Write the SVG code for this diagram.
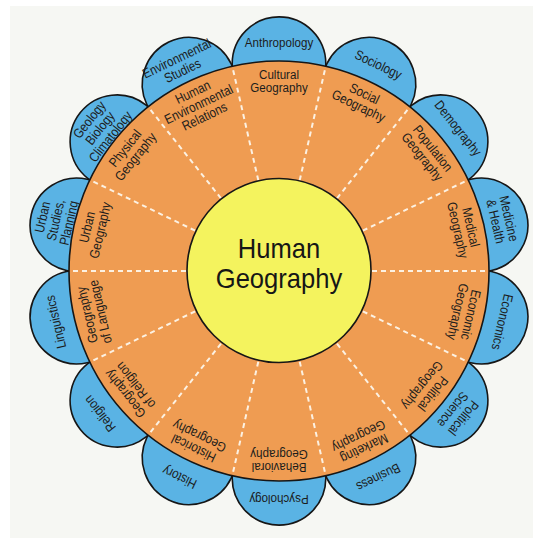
<svg xmlns="http://www.w3.org/2000/svg" width="533" height="541" viewBox="0 0 533 541">
<style>
.petal{fill:#5AB3E4;stroke:#161616;stroke-width:1.6}
.ring{fill:#EF9C52;stroke:#161616;stroke-width:1.6}
.hub{fill:#F4F35E;stroke:#161616;stroke-width:1.6}
.dv{stroke:#FCF1E2;stroke-width:2;stroke-dasharray:5 4;fill:none}
.lbl{font-family:"Liberation Sans",Arial,sans-serif;font-size:13.5px;fill:#1c1c1c;text-anchor:middle}
.big{font-family:"Liberation Sans",Arial,sans-serif;font-size:27.5px;fill:#161616;text-anchor:middle}
</style>
<rect x="0" y="0" width="533" height="541" fill="#ffffff"/>
<rect x="10" y="6" width="523" height="532" fill="#F6F7F3"/>

<g id="petals">
<g id="petal-anthropology"><circle class="petal" cx="279" cy="63.7" r="46.8" transform="rotate(0 279 271)"/><g transform="translate(279 271) rotate(0) translate(0 -229) scale(0.86 1)"><text class="lbl"><tspan x="0" y="4.5">Anthropology</tspan></text></g></g>
<g id="petal-sociology"><circle class="petal" cx="279" cy="63.7" r="46.8" transform="rotate(25.714 279 271)"/><g transform="translate(279 271) rotate(25.714) translate(0 -229) scale(0.86 1)"><text class="lbl"><tspan x="0" y="4.5">Sociology</tspan></text></g></g>
<g id="petal-demography"><circle class="petal" cx="279" cy="63.7" r="46.8" transform="rotate(51.429 279 271)"/><g transform="translate(279 271) rotate(51.429) translate(0 -229) scale(0.86 1)"><text class="lbl"><tspan x="0" y="4.5">Demography</tspan></text></g></g>
<g id="petal-medicine"><circle class="petal" cx="279" cy="63.7" r="46.8" transform="rotate(77.143 279 271)"/><g transform="translate(279 271) rotate(77.143) translate(0 -229) scale(0.86 1)"><text class="lbl"><tspan x="0" y="-2.25">Medicine</tspan><tspan x="0" y="11.25">&amp; Health</tspan></text></g></g>
<g id="petal-economics"><circle class="petal" cx="279" cy="63.7" r="46.8" transform="rotate(102.857 279 271)"/><g transform="translate(279 271) rotate(102.857) translate(0 -229) scale(0.86 1)"><text class="lbl"><tspan x="0" y="4.5">Economics</tspan></text></g></g>
<g id="petal-political-science"><circle class="petal" cx="279" cy="63.7" r="46.8" transform="rotate(128.571 279 271)"/><g transform="translate(279 271) rotate(128.571) translate(0 -229) scale(0.86 1)"><text class="lbl"><tspan x="0" y="-2.25">Political</tspan><tspan x="0" y="11.25">Science</tspan></text></g></g>
<g id="petal-business"><circle class="petal" cx="279" cy="63.7" r="46.8" transform="rotate(154.286 279 271)"/><g transform="translate(279 271) rotate(154.286) translate(0 -229) scale(0.86 1)"><text class="lbl"><tspan x="0" y="4.5">Business</tspan></text></g></g>
<g id="petal-psychology"><circle class="petal" cx="279" cy="63.7" r="46.8" transform="rotate(180 279 271)"/><g transform="translate(279 271) rotate(180) translate(0 -229) scale(0.86 1)"><text class="lbl"><tspan x="0" y="4.5">Psychology</tspan></text></g></g>
<g id="petal-history"><circle class="petal" cx="279" cy="63.7" r="46.8" transform="rotate(205.714 279 271)"/><g transform="translate(279 271) rotate(205.714) translate(0 -229) scale(0.86 1)"><text class="lbl"><tspan x="0" y="4.5">History</tspan></text></g></g>
<g id="petal-religion"><circle class="petal" cx="279" cy="63.7" r="46.8" transform="rotate(231.429 279 271)"/><g transform="translate(279 271) rotate(231.429) translate(0 -229) scale(0.86 1)"><text class="lbl"><tspan x="0" y="4.5">Religion</tspan></text></g></g>
<g id="petal-linguistics"><circle class="petal" cx="279" cy="63.7" r="46.8" transform="rotate(257.143 279 271)"/><g transform="translate(279 271) rotate(257.143) translate(0 -229) scale(0.86 1)"><text class="lbl"><tspan x="0" y="4.5">Linguistics</tspan></text></g></g>
<g id="petal-urban-studies"><circle class="petal" cx="279" cy="63.7" r="46.8" transform="rotate(282.857 279 271)"/><g transform="translate(279 271) rotate(282.857) translate(0 -229) scale(0.86 1)"><text class="lbl"><tspan x="0" y="-9">Urban</tspan><tspan x="0" y="4.5">Studies,</tspan><tspan x="0" y="18">Planning</tspan></text></g></g>
<g id="petal-geology"><circle class="petal" cx="279" cy="63.7" r="46.8" transform="rotate(308.571 279 271)"/><g transform="translate(279 271) rotate(308.571) translate(0 -229) scale(0.86 1)"><text class="lbl"><tspan x="0" y="-9">Geology</tspan><tspan x="0" y="4.5">Biology</tspan><tspan x="0" y="18">Climatology</tspan></text></g></g>
<g id="petal-environmental-studies"><circle class="petal" cx="279" cy="63.7" r="46.8" transform="rotate(334.286 279 271)"/><g transform="translate(279 271) rotate(334.286) translate(0 -229) scale(0.86 1)"><text class="lbl"><tspan x="0" y="-2.25">Environmental</tspan><tspan x="0" y="11.25">Studies</tspan></text></g></g>
</g>

<circle id="ring" class="ring" cx="279" cy="271" r="210"/>

<g id="connectors">
<line class="dv" x1="279" y1="178" x2="279" y2="62" transform="rotate(12.857 279 271)"/>
<line class="dv" x1="279" y1="178" x2="279" y2="62" transform="rotate(38.571 279 271)"/>
<line class="dv" x1="279" y1="178" x2="279" y2="62" transform="rotate(64.286 279 271)"/>
<line class="dv" x1="279" y1="178" x2="279" y2="62" transform="rotate(90 279 271)"/>
<line class="dv" x1="279" y1="178" x2="279" y2="62" transform="rotate(115.714 279 271)"/>
<line class="dv" x1="279" y1="178" x2="279" y2="62" transform="rotate(141.429 279 271)"/>
<line class="dv" x1="279" y1="178" x2="279" y2="62" transform="rotate(167.143 279 271)"/>
<line class="dv" x1="279" y1="178" x2="279" y2="62" transform="rotate(192.857 279 271)"/>
<line class="dv" x1="279" y1="178" x2="279" y2="62" transform="rotate(218.571 279 271)"/>
<line class="dv" x1="279" y1="178" x2="279" y2="62" transform="rotate(244.286 279 271)"/>
<line class="dv" x1="279" y1="178" x2="279" y2="62" transform="rotate(270 279 271)"/>
<line class="dv" x1="279" y1="178" x2="279" y2="62" transform="rotate(295.714 279 271)"/>
<line class="dv" x1="279" y1="178" x2="279" y2="62" transform="rotate(321.429 279 271)"/>
<line class="dv" x1="279" y1="178" x2="279" y2="62" transform="rotate(347.143 279 271)"/>
</g>

<g id="sectors">
<g id="sector-cultural" transform="translate(279 271) rotate(0) translate(0 -190) scale(0.86 1)"><text class="lbl"><tspan x="0" y="-2.25">Cultural</tspan><tspan x="0" y="11.25">Geography</tspan></text></g>
<g id="sector-social" transform="translate(279 271) rotate(25.714) translate(0 -190) scale(0.86 1)"><text class="lbl"><tspan x="0" y="-2.25">Social</tspan><tspan x="0" y="11.25">Geography</tspan></text></g>
<g id="sector-population" transform="translate(279 271) rotate(51.429) translate(0 -190) scale(0.86 1)"><text class="lbl"><tspan x="0" y="-2.25">Population</tspan><tspan x="0" y="11.25">Geography</tspan></text></g>
<g id="sector-medical" transform="translate(279 271) rotate(77.143) translate(0 -190) scale(0.86 1)"><text class="lbl"><tspan x="0" y="-2.25">Medical</tspan><tspan x="0" y="11.25">Geography</tspan></text></g>
<g id="sector-economic" transform="translate(279 271) rotate(102.857) translate(0 -190) scale(0.86 1)"><text class="lbl"><tspan x="0" y="-2.25">Economic</tspan><tspan x="0" y="11.25">Geography</tspan></text></g>
<g id="sector-political" transform="translate(279 271) rotate(128.571) translate(0 -190) scale(0.86 1)"><text class="lbl"><tspan x="0" y="-2.25">Political</tspan><tspan x="0" y="11.25">Geography</tspan></text></g>
<g id="sector-marketing" transform="translate(279 271) rotate(154.286) translate(0 -190) scale(0.86 1)"><text class="lbl"><tspan x="0" y="-2.25">Marketing</tspan><tspan x="0" y="11.25">Geography</tspan></text></g>
<g id="sector-behavioral" transform="translate(279 271) rotate(180) translate(0 -190) scale(0.86 1)"><text class="lbl"><tspan x="0" y="-2.25">Behavioral</tspan><tspan x="0" y="11.25">Geography</tspan></text></g>
<g id="sector-historical" transform="translate(279 271) rotate(205.714) translate(0 -190) scale(0.86 1)"><text class="lbl"><tspan x="0" y="-2.25">Historical</tspan><tspan x="0" y="11.25">Geography</tspan></text></g>
<g id="sector-religion" transform="translate(279 271) rotate(231.429) translate(0 -190) scale(0.86 1)"><text class="lbl"><tspan x="0" y="-2.25">Geography</tspan><tspan x="0" y="11.25">of Religion</tspan></text></g>
<g id="sector-language" transform="translate(279 271) rotate(257.143) translate(0 -190) scale(0.86 1)"><text class="lbl"><tspan x="0" y="-2.25">Geography</tspan><tspan x="0" y="11.25">of Language</tspan></text></g>
<g id="sector-urban" transform="translate(279 271) rotate(282.857) translate(0 -190) scale(0.86 1)"><text class="lbl"><tspan x="0" y="-2.25">Urban</tspan><tspan x="0" y="11.25">Geography</tspan></text></g>
<g id="sector-physical" transform="translate(279 271) rotate(308.571) translate(0 -190) scale(0.86 1)"><text class="lbl"><tspan x="0" y="-2.25">Physical</tspan><tspan x="0" y="11.25">Geography</tspan></text></g>
<g id="sector-human-environmental" transform="translate(279 271) rotate(334.286) translate(0 -185) scale(0.86 1)"><text class="lbl"><tspan x="0" y="-9">Human</tspan><tspan x="0" y="4.5">Environmental</tspan><tspan x="0" y="18">Relations</tspan></text></g>
</g>

<g id="center">
<circle class="hub" cx="279" cy="270.5" r="92"/>
<g transform="translate(279 0) scale(0.93 1)"><text class="big"><tspan x="0" y="258">Human</tspan><tspan x="0" y="288">Geography</tspan></text></g>
</g>
</svg>
